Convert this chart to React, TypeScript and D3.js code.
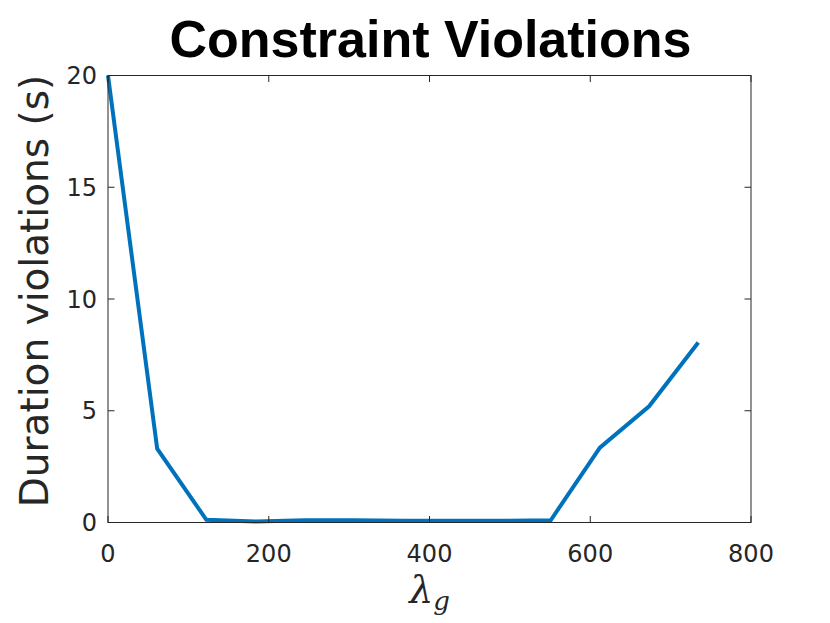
import React, { useEffect, useRef } from 'react';
import * as d3 from 'd3';

// lambda_g values and duration violations (s)
const lambdaG = [0, 61.2, 122.4, 183.6, 244.8, 306, 367.2, 428.4, 489.6, 550.8, 612, 673.2, 734.4];
const violations = [20, 3.3, 0.12, 0.05, 0.1, 0.1, 0.08, 0.08, 0.08, 0.1, 3.35, 5.2, 8.05];
const xTicks = [0, 200, 400, 600, 800];
const yTicks = [0, 5, 10, 15, 20];

const W = 830;
const H = 623;
const margin = { top: 75.5, right: 79, bottom: 100.5, left: 108 };

const App = () => {
  const svgRef = useRef<SVGSVGElement>(null);

  useEffect(() => {
    document.body.style.margin = '0';
    const svg = d3.select(svgRef.current);
    svg.selectAll('*').remove();

    const pw = W - margin.left - margin.right;
    const ph = H - margin.top - margin.bottom;
    const axisColor = '#262626';
    const tickLen = 6.5;

    const x = d3.scaleLinear().domain([0, 800]).range([0, pw]);
    const y = d3.scaleLinear().domain([0, 20]).range([ph, 0]);

    svg.append('rect').attr('width', W).attr('height', H).attr('fill', '#fff');

    const g = svg.append('g').attr('transform', `translate(${margin.left},${margin.top})`);

    // data line
    const line = d3.line<number>()
      .x((_, i) => x(lambdaG[i]))
      .y(d => y(d));
    g.append('path')
      .datum(violations)
      .attr('fill', 'none')
      .attr('stroke', '#0072BD')
      .attr('stroke-width', 4)
      .attr('stroke-linejoin', 'miter')
      .attr('d', line);

    // box
    g.append('rect')
      .attr('width', pw)
      .attr('height', ph)
      .attr('fill', 'none')
      .attr('stroke', axisColor)
      .attr('stroke-width', 1);

    // ticks on all four sides, pointing inward
    xTicks.forEach(t => {
      g.append('line').attr('x1', x(t)).attr('x2', x(t)).attr('y1', ph).attr('y2', ph - tickLen).attr('stroke', axisColor);
      g.append('line').attr('x1', x(t)).attr('x2', x(t)).attr('y1', 0).attr('y2', tickLen).attr('stroke', axisColor);
      g.append('text')
        .attr('x', x(t))
        .attr('y', ph + 39.5)
        .attr('text-anchor', 'middle')
        .attr('font-family', 'DejaVu Sans')
        .attr('font-size', 24)
        .attr('fill', axisColor)
        .text(t);
    });
    yTicks.forEach(t => {
      g.append('line').attr('x1', 0).attr('x2', tickLen).attr('y1', y(t)).attr('y2', y(t)).attr('stroke', axisColor);
      g.append('line').attr('x1', pw).attr('x2', pw - tickLen).attr('y1', y(t)).attr('y2', y(t)).attr('stroke', axisColor);
      g.append('text')
        .attr('x', -11)
        .attr('y', y(t))
        .attr('dy', '0.36em')
        .attr('text-anchor', 'end')
        .attr('font-family', 'DejaVu Sans')
        .attr('font-size', 24)
        .attr('fill', axisColor)
        .text(t);
    });

    // title
    svg.append('text')
      .attr('x', margin.left + pw / 2 + 1)
      .attr('y', 57)
      .attr('text-anchor', 'middle')
      .attr('font-family', 'Liberation Sans, Arial, sans-serif')
      .attr('font-weight', 'bold')
      .attr('font-size', 52)
      .attr('fill', '#000')
      .text('Constraint Violations');

    // y label
    svg.append('text')
      .attr('transform', `translate(48, 291) rotate(-90)`)
      .attr('text-anchor', 'middle')
      .attr('font-family', 'DejaVu Sans')
      .attr('font-size', 39)
      .attr('fill', axisColor)
      .text('Duration violations (s)');

    // x label: lambda_g
    const xl = svg.append('text')
      .attr('x', margin.left + pw / 2)
      .attr('y', 603)
      .attr('text-anchor', 'middle')
      .attr('font-family', 'DejaVu Serif')
      .attr('font-style', 'italic')
      .attr('font-size', 38)
      .attr('fill', axisColor);
    xl.append('tspan').text('λ');
    xl.append('tspan').attr('dy', 7).attr('font-size', 26).text('g');
  }, []);

  return <svg ref={svgRef} width={W} height={H} style={{ display: 'block' }} />;
};

export default App;
